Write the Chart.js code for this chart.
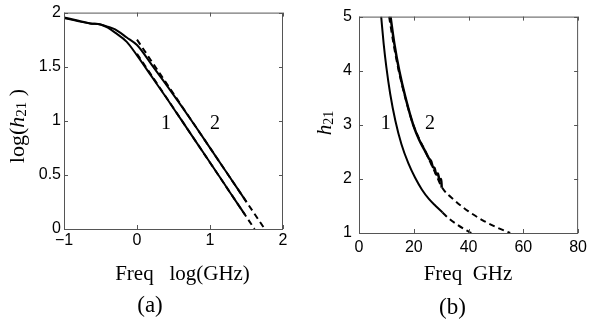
<!DOCTYPE html>
<html>
<head>
<meta charset="utf-8">
<script src="https://cdn.jsdelivr.net/npm/chart.js@4.4.0/dist/chart.umd.min.js"></script>
<style>
  html, body { margin: 0; padding: 0; background: #fff; }
  #wrap { position: relative; width: 592px; height: 328px; }
  .box { position: absolute; top: 0; width: 296px; height: 328px; }
</style>
</head>
<body>
<div id="wrap">
  <div class="box" style="left:0"><canvas id="chartA" width="296" height="328"></canvas></div>
  <div class="box" style="left:296px"><canvas id="chartB" width="296" height="328"></canvas></div>
</div>
<script>
// (a) log(h21) against log(freq)
const aLogF1 = [-1, -0.8, -0.64, -0.5, -0.4, -0.3, -0.14, 0, 0.2, 0.4, 0.6, 0.8, 1.0, 1.2, 1.4, 1.48];
const aLogH1 = [1.955, 1.925, 1.90, 1.89, 1.86, 1.815, 1.73, 1.605, 1.41, 1.215, 1.015, 0.815, 0.614, 0.413, 0.211, 0.132];
const aLogF2 = [-1, -0.8, -0.64, -0.5, -0.4, -0.3, -0.14, 0, 0.2, 0.4, 0.6, 0.8, 1.0, 1.2, 1.4, 1.5];
const aLogH2 = [1.95, 1.92, 1.90, 1.89, 1.87, 1.845, 1.77, 1.70, 1.52, 1.335, 1.145, 0.95, 0.75, 0.55, 0.35, 0.25];
const aDashF1 = [0, 1.61];
const aDashH1 = [1.62, 0];
const aDashF2 = [0, 1.75];
const aDashH2 = [1.75, 0];
const aTicksX = [-1, 0, 1, 2];
const aTicksY = [0, 0.5, 1, 1.5, 2];

// (b) h21 against freq in GHz
const bF1 = [8.1, 9.0, 10.0, 11.4, 13.3, 15.5, 18.0, 20.5, 23.0, 25.5, 28.0, 30.5];
const bH1 = [5.0, 4.5, 4.06, 3.57, 3.07, 2.64, 2.29, 2.02, 1.80, 1.63, 1.50, 1.38];
const bF2 = [11.5, 12.9, 14.7, 17.0, 19.8, 22.0, 24.3, 25.5, 26.3, 27.0, 27.6, 28.2, 28.8, 29.4, 30.0, 30.2];
const bH2 = [5.0, 4.5, 4.0, 3.5, 3.0, 2.72, 2.5, 2.38, 2.33, 2.22, 2.2, 2.08, 2.1, 1.98, 2.0, 1.84];
const bDashF1 = [30.5, 33, 36, 38.5, 41];
const bDashH1 = [1.38, 1.26, 1.15, 1.07, 1.0];
const bDashF2 = [11.0, 12.6, 14.5, 16.9, 19.8, 24.3, 28.4, 30.2, 35, 40, 45, 50, 55.2];
const bDashH2 = [5.0, 4.5, 4.0, 3.5, 3.0, 2.5, 2.05, 1.85, 1.6, 1.4, 1.24, 1.11, 1.0];
const bTicksX = [0, 20, 40, 60, 80];
const bTicksY = [1, 2, 3, 4, 5];

const pts = (xs, ys) => xs.map((x, i) => ({ x: x, y: ys[i] }));
const serif = "'Liberation Serif', 'Times New Roman', serif";
const sans = "'Liberation Sans', Arial, sans-serif";

function solid(xs, ys, w) {
  return { data: pts(xs, ys), borderColor: '#000', borderWidth: w || 2, pointRadius: 0, cubicInterpolationMode: 'monotone', fill: false };
}
function dashed(xs, ys) {
  return { data: pts(xs, ys), borderColor: '#000', borderWidth: 2, borderDash: [6, 4], pointRadius: 0, cubicInterpolationMode: 'monotone', fill: false };
}

// draws the box, inward ticks and the hand-set labels
function framePlugin(texts) {
  return {
    id: 'frame',
    afterDraw(chart) {
      const ctx = chart.ctx, a = chart.chartArea;
      const sx = chart.scales.x, sy = chart.scales.y;
      ctx.save();
      ctx.strokeStyle = '#555';
      ctx.lineWidth = 1;
      ctx.strokeRect(a.left + 0.5, a.top + 0.5, a.right - a.left - 1, a.bottom - a.top);
      ctx.beginPath();
      sx.ticks.forEach(t => {
        const px = Math.round(sx.getPixelForValue(t.value)) + 0.5;
        ctx.moveTo(px, a.bottom); ctx.lineTo(px, a.bottom - 4);
        ctx.moveTo(px, a.top); ctx.lineTo(px, a.top + 4);
      });
      sy.ticks.forEach(t => {
        const py = Math.round(sy.getPixelForValue(t.value)) + 0.5;
        ctx.moveTo(a.left, py); ctx.lineTo(a.left + 4, py);
        ctx.moveTo(a.right, py); ctx.lineTo(a.right - 4, py);
      });
      ctx.stroke();
      ctx.fillStyle = '#000';
      ctx.textBaseline = 'alphabetic';
      texts(ctx);
      ctx.restore();
    }
  };
}

// rotated y title: pieces of [text, font, dy]
function rotatedTitle(ctx, parts, cx, cy) {
  let total = 0;
  parts.forEach(p => { ctx.font = p[1]; total += ctx.measureText(p[0]).width; });
  ctx.save();
  ctx.translate(cx, cy);
  ctx.rotate(-Math.PI / 2);
  let x = -total / 2;
  ctx.textAlign = 'left';
  parts.forEach(p => {
    ctx.font = p[1];
    ctx.fillText(p[0], x, p[2]);
    x += ctx.measureText(p[0]).width;
  });
  ctx.restore();
}

function makeChart(id, datasets, xr, yr, ticksX, ticksY, box, texts) {
  return new Chart(document.getElementById(id), {
    type: 'line',
    data: { datasets: datasets },
    options: {
      responsive: false,
      animation: false,
      events: [],
      layout: { padding: { left: 0, right: box.padRight, top: 10, bottom: 0 } },
      plugins: { legend: { display: false }, tooltip: { enabled: false } },
      scales: {
        x: {
          type: 'linear', min: xr[0], max: xr[1],
          grid: { display: false, drawTicks: false },
          border: { display: false },
          afterBuildTicks: s => { s.ticks = ticksX.map(v => ({ value: v })); },
          afterFit: s => { s.height = box.xHeight; },
          ticks: {
            font: { family: sans, size: 16 }, color: '#000', padding: box.xPad, maxRotation: 0,
            callback: v => String(v).replace('-', '\u2212')
          }
        },
        y: {
          type: 'linear', min: yr[0], max: yr[1],
          grid: { display: false, drawTicks: false },
          border: { display: false },
          afterBuildTicks: s => { s.ticks = ticksY.map(v => ({ value: v })); },
          afterFit: s => { s.width = box.yWidth; },
          ticks: {
            font: { family: sans, size: 16 }, color: '#000', padding: box.yPad,
            callback: v => String(v)
          }
        }
      }
    },
    plugins: [framePlugin(texts)]
  });
}

makeChart('chartA', [
  dashed(aDashF1, aDashH1),
  dashed(aDashF2, aDashH2),
  solid(aLogF1, aLogH1),
  solid(aLogF2, aLogH2)
], [-1, 2], [0, 2], aTicksX, aTicksY,
  { padRight: 13, xHeight: 99, yWidth: 64, xPad: 2, yPad: 3 },
  ctx => {
    ctx.textAlign = 'center';
    ctx.font = '21px ' + serif;
    ctx.fillText('Freq   log(GHz)', 182.5, 280);
    ctx.font = '23px ' + serif;
    ctx.fillText('(a)', 150, 312);
    ctx.font = '20px ' + serif;
    ctx.fillText('1', 166, 128.5);
    ctx.fillText('2', 215, 128.5);
    rotatedTitle(ctx, [
      ['log(', '22px ' + serif, 0],
      ['h', 'italic 22px ' + serif, 0],
      ['21', '15px ' + serif, 2],
      [' )', '22px ' + serif, 0]
    ], 24, 126);
  });

makeChart('chartB', [
  dashed(bDashF1, bDashH1),
  dashed(bDashF2, bDashH2),
  solid(bF1, bH1),
  solid(bF2, bH2, 2.5)
], [0, 80], [1, 5], bTicksX, bTicksY,
  { padRight: 10, xHeight: 95, yWidth: 63, xPad: 5, yPad: 7 },
  ctx => {
    ctx.textAlign = 'center';
    ctx.font = '21px ' + serif;
    ctx.fillText('Freq  GHz', 172, 280);
    ctx.font = '23px ' + serif;
    ctx.fillText('(b)', 156.5, 313.5);
    ctx.font = '20px ' + serif;
    ctx.fillText('1', 89.7, 128.5);
    ctx.fillText('2', 134, 128.5);
    rotatedTitle(ctx, [
      ['h', 'italic 21px ' + serif, 0],
      ['21', '14px ' + serif, 2]
    ], 35, 123);
  });
</script>
</body>
</html>
